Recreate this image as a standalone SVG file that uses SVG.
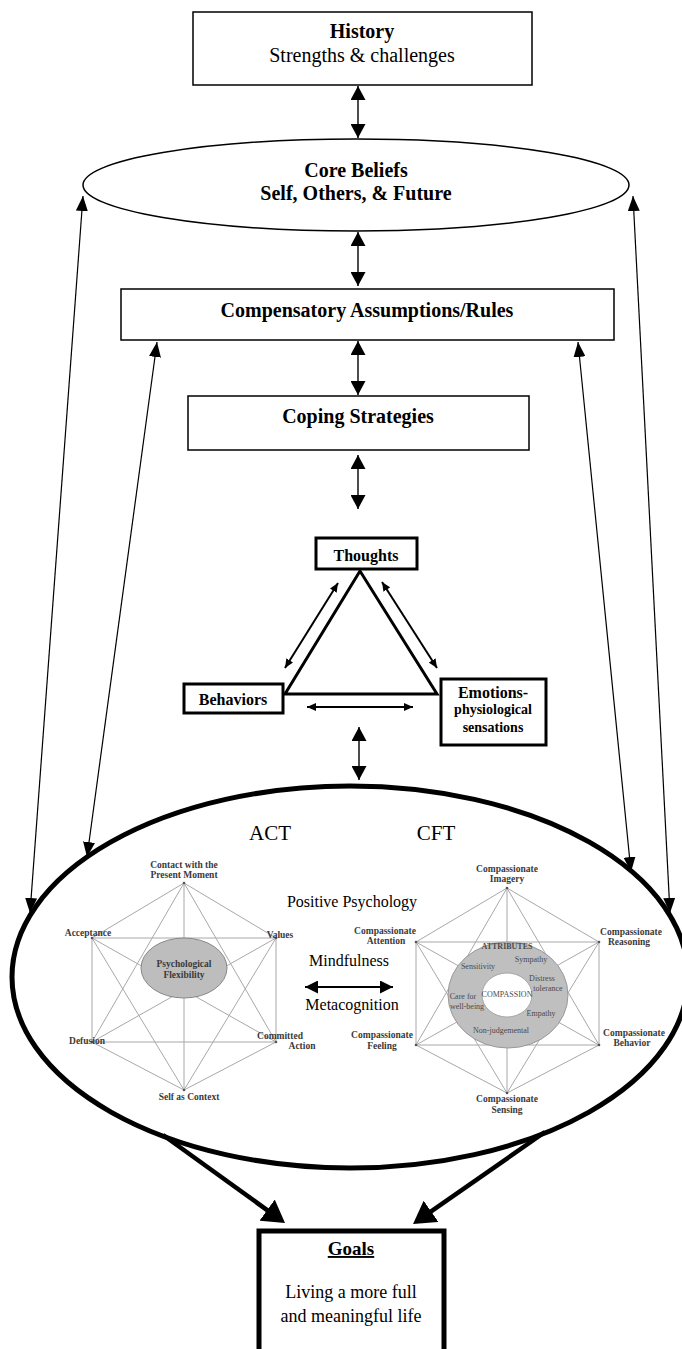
<svg xmlns="http://www.w3.org/2000/svg" width="682" height="1349" viewBox="0 0 682 1349">
<style>
.box{fill:#fff;stroke:#000;stroke-width:1.5}
.tb{fill:#fff;stroke:#000;stroke-width:3}
.t{font-family:"Liberation Serif","Times New Roman",serif;fill:#000;text-anchor:middle}
.b{font-weight:bold}
.c1{stroke:#000;stroke-width:1.4;fill:none}
.c2{stroke:#000;stroke-width:2;fill:none}
.g{stroke:#a8a8a8;stroke-width:1;fill:none}
.lab{font-family:"Liberation Serif","Times New Roman",serif;font-weight:bold;font-size:9.5px;fill:#3a3a3a;text-anchor:middle}
.in{font-family:"Liberation Serif","Times New Roman",serif;font-size:8px;fill:#4a4a4a;text-anchor:middle}
.dot{fill:#555}
</style>
<defs>
<marker id="a1" viewBox="0 0 14 15" refX="14" refY="7.5" markerWidth="14" markerHeight="15" markerUnits="userSpaceOnUse" orient="auto-start-reverse"><path d="M0,0L14,7.5L0,15z"/></marker>
<marker id="a2" viewBox="0 0 15 12" refX="15" refY="6" markerWidth="15" markerHeight="12" markerUnits="userSpaceOnUse" orient="auto-start-reverse"><path d="M0,0L15,6L0,12z"/></marker>
<marker id="a3" viewBox="0 0 9 8" refX="9" refY="4" markerWidth="9" markerHeight="8" markerUnits="userSpaceOnUse" orient="auto-start-reverse"><path d="M0,0L9,4L0,8z"/></marker>
<marker id="a4" viewBox="0 0 13 13" refX="13" refY="6.5" markerWidth="13" markerHeight="13" markerUnits="userSpaceOnUse" orient="auto-start-reverse"><path d="M0,0L13,6.5L0,13z"/></marker>
<marker id="a5" viewBox="0 0 22 26" refX="14" refY="13" markerWidth="22" markerHeight="26" markerUnits="userSpaceOnUse" orient="auto"><path d="M0,0L22,13L0,26z"/></marker>
</defs>

<g id="history">
<rect class="box" x="193" y="12" width="339" height="73"/>
<text class="t b" x="362" y="38" font-size="20">History</text>
<text class="t" x="362" y="62" font-size="20">Strengths &amp; challenges</text>
</g>

<g id="core-beliefs">
<ellipse cx="356" cy="185" rx="273" ry="46" fill="#fff" stroke="#000" stroke-width="1.5"/>
<text class="t b" x="356" y="177" font-size="20">Core Beliefs</text>
<text class="t b" x="356" y="200" font-size="20">Self, Others, &amp; Future</text>
</g>

<g id="compensatory">
<rect class="box" x="121" y="289" width="493" height="51"/>
<text class="t b" x="367" y="317" font-size="20">Compensatory Assumptions/Rules</text>
</g>

<g id="coping">
<rect class="box" x="188" y="396" width="341" height="54"/>
<text class="t b" x="358" y="423" font-size="20">Coping Strategies</text>
</g>

<g id="thoughts">
<rect class="tb" x="316" y="538" width="101" height="31"/>
<text class="t b" x="366" y="561" font-size="16">Thoughts</text>
</g>

<g id="behaviors">
<rect class="tb" x="184" y="684" width="99" height="29"/>
<text class="t b" x="233" y="705" font-size="16">Behaviors</text>
</g>

<g id="emotions">
<rect class="tb" x="441" y="679" width="105" height="66"/>
<text class="t b" x="493" y="698" font-size="16">Emotions-</text>
<text class="t b" x="493" y="714" font-size="14">physiological</text>
<text class="t b" x="493" y="732" font-size="14">sensations</text>
</g>

<g id="triangle">
<polygon points="360,571 285,694 437,694" fill="none" stroke="#000" stroke-width="3"/>
</g>

<g id="act">
<path class="g" d="M184,883L92,938M184,883L276,938M184,883L92,1042M184,883L276,1042M184,883L184,1090M92,938L276,938M92,938L92,1042M92,938L276,1042M92,938L184,1090M276,938L92,1042M276,938L276,1042M276,938L184,1090M92,1042L276,1042M92,1042L184,1090M276,1042L184,1090"/>
<ellipse cx="184" cy="968" rx="43" ry="30" fill="#bdbdbd" stroke="#888" stroke-width="1"/>
<text class="lab" x="184" y="967">Psychological</text>
<text class="lab" x="184" y="978">Flexibility</text>
<g class="dot"><circle cx="184" cy="883" r="1.3"/><circle cx="92" cy="938" r="1.3"/><circle cx="276" cy="938" r="1.3"/><circle cx="92" cy="1042" r="1.3"/><circle cx="276" cy="1042" r="1.3"/><circle cx="184" cy="1090" r="1.3"/></g>
<text class="lab" x="184" y="868">Contact with the</text>
<text class="lab" x="184" y="878">Present Moment</text>
<text class="lab" x="88" y="936" text-anchor="end">Acceptance</text>
<text class="lab" x="280" y="938" text-anchor="start">Values</text>
<text class="lab" x="87" y="1044" text-anchor="end">Defusion</text>
<text class="lab" x="280" y="1039" text-anchor="start">Committed</text>
<text class="lab" x="302" y="1049">Action</text>
<text class="lab" x="189" y="1100">Self as Context</text>
</g>

<g id="cft">
<path class="g" d="M507,888L416,942M507,888L599,942M507,888L416,1045M507,888L599,1045M507,888L507,1093M416,942L599,942M416,942L416,1045M416,942L599,1045M416,942L507,1093M599,942L416,1045M599,942L599,1045M599,942L507,1093M416,1045L599,1045M416,1045L507,1093M599,1045L507,1093"/>
<ellipse cx="508" cy="995" rx="60" ry="53" fill="#bfbfbf" stroke="#999" stroke-width="1"/>
<ellipse cx="507" cy="995" rx="25" ry="22" fill="#fff" stroke="#999" stroke-width="0.8"/>
<g class="dot"><circle cx="507" cy="888" r="1.3"/><circle cx="416" cy="942" r="1.3"/><circle cx="599" cy="942" r="1.3"/><circle cx="416" cy="1045" r="1.3"/><circle cx="599" cy="1045" r="1.3"/><circle cx="507" cy="1093" r="1.3"/></g>
<text class="in" x="507" y="949" font-weight="bold" font-size="7.5">ATTRIBUTES</text>
<text class="in" x="531" y="962">Sympathy</text>
<text class="in" x="478" y="969">Sensitivity</text>
<text class="in" x="542" y="981">Distress</text>
<text class="in" x="548" y="991">tolerance</text>
<text class="in" x="507" y="997" font-size="7.5">COMPASSION</text>
<text class="in" x="463" y="999">Care for</text>
<text class="in" x="467" y="1009">well-being</text>
<text class="in" x="541" y="1016">Empathy</text>
<text class="in" x="501" y="1033">Non-judgemental</text>
<text class="lab" x="507" y="872">Compassionate</text>
<text class="lab" x="507" y="882">Imagery</text>
<text class="lab" x="385" y="934">Compassionate</text>
<text class="lab" x="386" y="944">Attention</text>
<text class="lab" x="631" y="935">Compassionate</text>
<text class="lab" x="629" y="945">Reasoning</text>
<text class="lab" x="382" y="1038">Compassionate</text>
<text class="lab" x="382" y="1049">Feeling</text>
<text class="lab" x="634" y="1036">Compassionate</text>
<text class="lab" x="632" y="1046">Behavior</text>
<text class="lab" x="507" y="1102">Compassionate</text>
<text class="lab" x="507" y="1113">Sensing</text>
</g>

<g id="therapies">
<ellipse cx="350" cy="977" rx="338" ry="191" fill="none" stroke="#000" stroke-width="5"/>
<text class="t" x="270" y="840" font-size="21">ACT</text>
<text class="t" x="436" y="840" font-size="21">CFT</text>
<text class="t" x="352" y="907" font-size="16">Positive Psychology</text>
<text class="t" x="349" y="966" font-size="16">Mindfulness</text>
<text class="t" x="352" y="1010" font-size="16">Metacognition</text>
</g>

<g id="goals">
<rect x="259" y="1231" width="185" height="140" fill="#fff" stroke="#000" stroke-width="5"/>
<text class="t b" x="351" y="1255" font-size="19" text-decoration="underline">Goals</text>
<text class="t" x="351" y="1298" font-size="18">Living a more full</text>
<text class="t" x="351" y="1322" font-size="18">and meaningful life</text>
</g>

<g id="connectors">
<g class="c1" marker-start="url(#a1)" marker-end="url(#a1)">
<line x1="358" y1="86" x2="358" y2="138"/>
<line x1="358" y1="232" x2="358" y2="286"/>
<line x1="358" y1="341" x2="358" y2="395"/>
<line x1="358" y1="455" x2="358" y2="509"/>
<line x1="359" y1="727" x2="359" y2="780"/>
</g>
<g stroke="#000" stroke-width="1.2" fill="none" marker-start="url(#a2)" marker-end="url(#a2)">
<line x1="83" y1="196" x2="30" y2="913"/>
<line x1="633" y1="196" x2="670" y2="913"/>
<line x1="157" y1="342" x2="87" y2="857"/>
<line x1="578" y1="342" x2="631" y2="872"/>
</g>
<g class="c2" marker-start="url(#a3)" marker-end="url(#a3)">
<line x1="338" y1="583" x2="285" y2="668"/>
<line x1="382" y1="582" x2="437" y2="668"/>
<line x1="307" y1="707" x2="413" y2="707"/>
</g>
<line class="c2" x1="305" y1="987" x2="393" y2="987" marker-start="url(#a4)" marker-end="url(#a4)"/>
<g stroke="#000" stroke-width="4.5" fill="none" marker-end="url(#a5)">
<line x1="163" y1="1135" x2="278.5" y2="1218.3"/>
<line x1="545" y1="1132" x2="419.6" y2="1219.4"/>
</g>
</g>
</svg>
